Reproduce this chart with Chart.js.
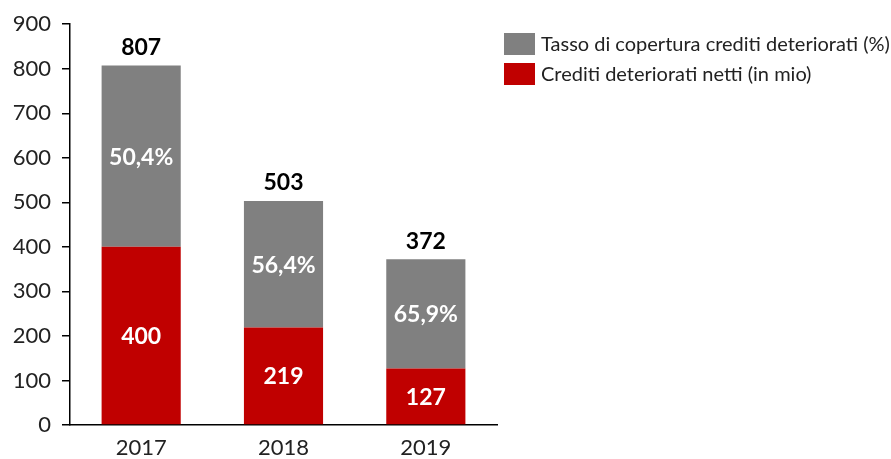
<!DOCTYPE html>
<html>
<head>
<meta charset="utf-8">
<script src="https://cdn.jsdelivr.net/npm/chart.js@4/dist/chart.umd.min.js"></script>
<style>
html,body{margin:0;padding:0;background:#fff;}
#wrap{width:891px;height:459px;}
</style>
</head>
<body>
<div id="wrap"><canvas id="c" width="891" height="459"></canvas></div>
<script>
const categories = ['2017', '2018', '2019'];
const netCredits = [400, 219, 127];
const totals = [807, 503, 372];
const coverageLabels = ['50,4%', '56,4%', '65,9%'];
const coverageValues = totals.map((t, i) => t - netCredits[i]);
const yTicks = [0, 100, 200, 300, 400, 500, 600, 700, 800, 900];

const seriesNames = ['Crediti deteriorati netti (in mio)', 'Tasso di copertura crediti deteriorati (%)'];
const colors = ['#C00000', '#808080'];
const FONT = 'Lato, "Open Sans", sans-serif';

const labelPlugin = {
  id: 'labels',
  afterDatasetsDraw(chart) {
    const ctx = chart.ctx;
    ctx.save();
    ctx.textAlign = 'center';
    ctx.textBaseline = 'middle';
    ctx.font = 'bold 23px ' + FONT;
    const m0 = chart.getDatasetMeta(0), m1 = chart.getDatasetMeta(1);
    m0.data.forEach((el, i) => {
      ctx.fillStyle = '#fff';
      ctx.fillText(String(netCredits[i]), el.x, (el.y + el.base) / 2 + 1);
    });
    m1.data.forEach((el, i) => {
      ctx.fillStyle = '#fff';
      ctx.fillText(coverageLabels[i], el.x, (el.y + el.base) / 2 + 1);
      ctx.fillStyle = '#000';
      ctx.fillText(String(totals[i]), el.x, el.y - 18);
    });
    // legend
    ctx.textAlign = 'left';
    ctx.font = '20px ' + FONT;
    const items = [1, 0];
    items.forEach((d, k) => {
      const y0 = 33 + k * 30;
      ctx.fillStyle = colors[d];
      ctx.fillRect(504, y0, 31, 22);
      ctx.fillStyle = '#222';
      ctx.fillText(seriesNames[d], 541, y0 + 12);
    });
    ctx.restore();
  }
};

new Chart(document.getElementById('c'), {
  type: 'bar',
  data: {
    labels: categories,
    datasets: [
      { label: seriesNames[0], data: netCredits, backgroundColor: colors[0], barPercentage: 0.556, categoryPercentage: 1 },
      { label: seriesNames[1], data: coverageValues, backgroundColor: colors[1], barPercentage: 0.556, categoryPercentage: 1 }
    ]
  },
  options: {
    responsive: false,
    animation: false,
    layout: { padding: { left: 0, right: 394, top: 23, bottom: 0 } },
    plugins: { legend: { display: false }, tooltip: { enabled: false } },
    scales: {
      x: {
        stacked: true,
        grid: { display: false, drawTicks: false },
        border: { display: true, color: '#000', width: 1.5 },
        ticks: { color: '#222', font: { family: FONT, size: 22 }, padding: 10 },
        afterFit(s) { s.height = 34; }
      },
      y: {
        stacked: true,
        min: 0, max: 900,
        afterBuildTicks(s) { s.ticks = yTicks.map(v => ({ value: v })); },
        grid: { drawOnChartArea: false, drawTicks: true, tickLength: 8, color: '#000', lineWidth: 1.5 },
        border: { display: true, color: '#000', width: 1.5 },
        ticks: { color: '#222', font: { family: FONT, size: 22 }, padding: 11 },
        afterFit(s) { s.width = 70; }
      }
    }
  },
  plugins: [labelPlugin]
});
</script>
</body>
</html>
